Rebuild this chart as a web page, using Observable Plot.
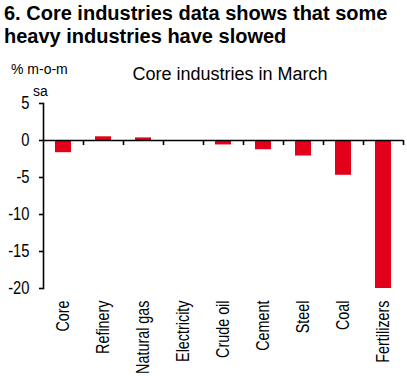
<!DOCTYPE html>
<html>
<head>
<meta charset="utf-8">
<script src="https://cdn.jsdelivr.net/npm/d3@7"></script>
<script src="https://cdn.jsdelivr.net/npm/@observablehq/plot@0.6"></script>
<style>
  body { margin: 0; background: #fff; font-family: "Liberation Sans", Arial, sans-serif; }
  #wrap { position: relative; width: 407px; height: 381px; overflow: hidden; }
  #title { position: absolute; left: 4px; top: 2px; font-weight: bold; font-size: 20px; line-height: 23px; color: #000; }
  .lbl { position: absolute; line-height: 1; color: #000; white-space: nowrap; }
  #chart { position: absolute; left: 0; top: 56px; }
</style>
</head>
<body>
<div id="wrap">
  <div id="title">6. Core industries data shows that some<br>heavy industries have slowed</div>
  <div id="chart"></div>
  <div class="lbl" style="left:11px; top:62px; font-size:14px;">% m-o-m</div>
  <div class="lbl" style="left:33px; top:84px; font-size:14px;">sa</div>
  <div class="lbl" style="left:230px; top:65px; font-size:18px; transform:translateX(-50%);">Core industries in March</div>
</div>
<script>
const categories = ["Core", "Refinery", "Natural gas", "Electricity", "Crude oil", "Cement", "Steel", "Coal", "Fertilizers"];
const values = [-1.65, 0.5, 0.35, 0.0, -0.6, -1.25, -2.1, -4.7, -20.0];
const yTicks = [5, 0, -5, -10, -15, -20];

const data = categories.map((c, i) => ({cat: c, value: values[i]}));

const chart = Plot.plot({
  width: 407,
  height: 325,
  marginTop: 47,
  marginBottom: 93,
  marginLeft: 43,
  marginRight: 4,
  style: {fontFamily: "Liberation Sans, Arial, sans-serif", color: "#000", background: "#fff"},
  x: {domain: categories, paddingInner: 0.6, paddingOuter: 0.3},
  y: {domain: [-20, 5]},
  marks: [
    Plot.barY(data, {x: "cat", y: "value", fill: "#e2001a"}),
    Plot.ruleY([0], {stroke: "#000", strokeWidth: 1.6}),
    Plot.ruleX(categories, {x: d => d, y1: 0, y2: -0.68, dx: 20, stroke: "#000", strokeWidth: 1.6}),
    Plot.frame({anchor: "left", stroke: "#000", strokeWidth: 1.6}),
    Plot.axisY({ticks: yTicks, tickSize: 4, tickPadding: 10, fontSize: 18, tickFormat: d => String(d), label: null, strokeWidth: 1.6}),
    Plot.axisX({tickSize: 0, tickPadding: 12, tickRotate: -90, fontSize: 17.5, label: null})
  ]
});
// condense the axis tick labels along the text direction, like a narrow face
chart.querySelectorAll('g[aria-label$="tick label"] text').forEach(t => {
  const tr = t.getAttribute("transform") || "";
  t.setAttribute("transform", `${tr} scale(0.82,1)`);
});
document.getElementById("chart").appendChild(chart);
</script>
</body>
</html>
